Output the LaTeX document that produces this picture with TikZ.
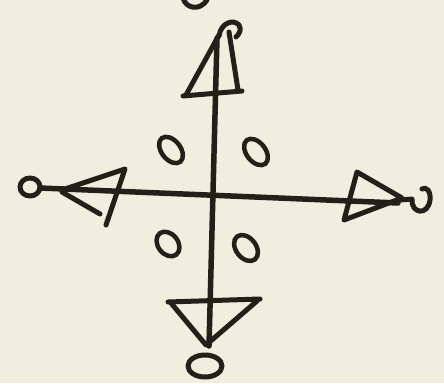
\documentclass[tikz,border=0pt]{standalone}
\definecolor{paper}{RGB}{240,238,222}
\definecolor{ink}{RGB}{34,32,24}
\begin{document}
\begin{tikzpicture}[x=1pt,y=-1pt,
  pen/.style={draw=ink,line width=5.5pt,line cap=round,line join=round},
  thinpen/.style={draw=ink,line width=5pt,line cap=round,line join=round},
  oval/.style={draw=ink,line width=4.5pt}]
\fill[paper] (0,0) rectangle (444,383);
\useasboundingbox (0,0) rectangle (444,383);
% axes
\coordinate (top) at (217,38);
\coordinate (bot) at (209,346);
\coordinate (lft) at (40,188);
\coordinate (rgt) at (398,203);
\draw[pen] (top) -- (bot);
\draw[pen] (lft) -- (rgt);
% top arrow
\draw[thinpen] (186,95) -- (219,35);
\draw[thinpen] (238,90) -- (229,32);
\draw[thinpen] (183,96) -- (242,91);
\draw[thinpen] (219,36) .. controls (221,22) and (234,19) .. (239,25) .. controls (242,30) and (239,34) .. (236,37);
\draw[thinpen] (183,-2) .. controls (186,9) and (200,11) .. (207,0);
% left arrow
\draw[thinpen] (30,187) ellipse (10 and 9);
\draw[thinpen] (62,190) -- (125,169) -- (106,225);
\draw[thinpen] (62,192) -- (100,214);
% right arrow
\draw[thinpen] (357,172) -- (344,220) -- (402,198) -- cycle;
\draw[thinpen] (400,200) -- (412,199) .. controls (411,214) and (428,216) .. (430,200) .. controls (431,191) and (426,186) .. (422,189);
% bottom arrow
\draw[thinpen] (168,302) -- (260,299);
\draw[thinpen] (171,303) -- (206,345) -- (257,301);
\draw[thinpen] (205,366) ellipse (17 and 11);
% ovals
\draw[oval,rotate around={38:(171,150)}] (171,150) ellipse (9.5 and 15);
\draw[oval,rotate around={38:(256,152)}] (256,152) ellipse (9.5 and 15);
\draw[oval,rotate around={38:(168,244)}] (168,244) ellipse (10 and 13.5);
\draw[oval,rotate around={38:(246,248)}] (246,248) ellipse (10 and 14.5);
\end{tikzpicture}
\end{document}
